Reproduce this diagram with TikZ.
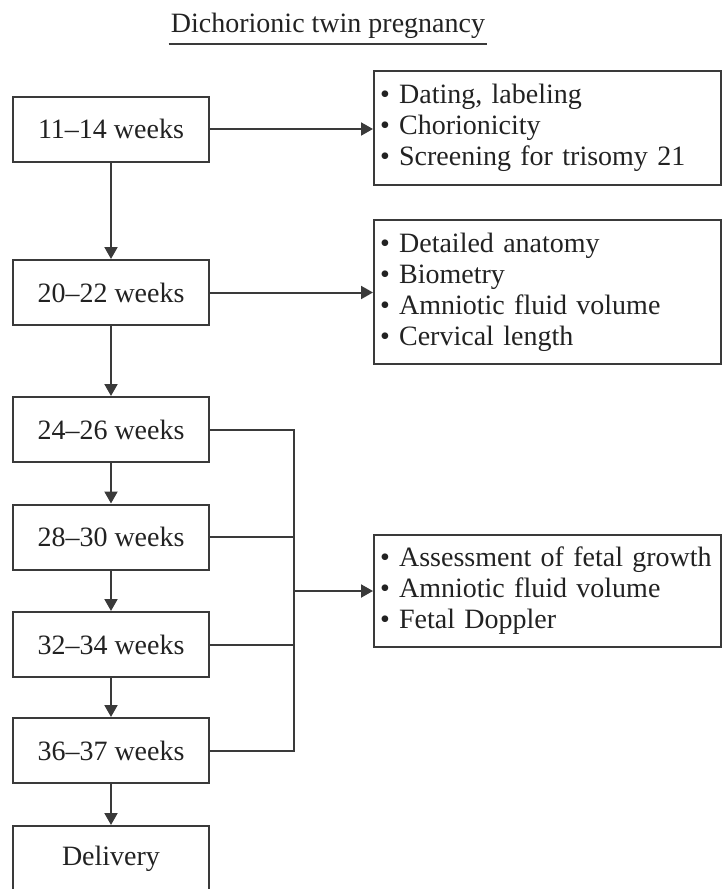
\documentclass[tikz,border=0pt]{standalone}
\usepackage{fontspec}
\setmainfont{Liberation Serif}
\usetikzlibrary{arrows.meta}
\definecolor{ln}{HTML}{3A3A3A}
\definecolor{tx}{HTML}{222222}
\begin{document}
\begin{tikzpicture}[x=1pt,y=-1pt,
  font=\fontsize{28}{31}\selectfont,
  every node/.style={text=tx},
  week/.style={draw=ln,line width=2pt,minimum width=196pt,minimum height=65pt,inner sep=0pt},
  info/.style={draw=ln,line width=2pt,minimum width=347pt,text width=335pt,align=left,inner xsep=6pt,inner ysep=0pt},
  conn/.style={draw=ln,line width=2pt},
  arr/.style={conn,-{Triangle[length=12pt,width=13pt]}}]
\useasboundingbox (0,0) rectangle (723,889);
\node[anchor=base,inner sep=0pt] (title) at (328,32) {Dichorionic twin pregnancy};
\draw[conn] ([yshift=-12pt,xshift=-2pt]title.base west) -- ([yshift=-12pt,xshift=2pt]title.base east);

\node[week] (b1) at (111,129) {11–14 weeks};
\node[week] (b2) at (111,292.5) {20–22 weeks};
\node[week] (b3) at (111,429.5) {24–26 weeks};
\node[week] (b4) at (111,537) {28–30 weeks};
\node[week] (b5) at (111,644.5) {32–34 weeks};
\node[week] (b6) at (111,750.5) {36–37 weeks};
\node[week] (b7) at (111,858.5) {Delivery};

\node[info,minimum height=114pt] (r1) at (547.5,128) {• Dating, labeling\\• Chorionicity\\• Screening for trisomy 21};
\node[info,minimum height=144pt] (r2) at (547.5,292) {• Detailed anatomy\\• Biometry\\• Amniotic fluid volume\\• Cervical length};
\node[info,minimum height=112pt] (r3) at (547.5,591) {• Assessment of fetal growth\\• Amniotic fluid volume\\• Fetal Doppler};

\draw[arr] (b1) -- (b2);
\draw[arr] (b2) -- (b3);
\draw[arr] (b3) -- (b4);
\draw[arr] (b4) -- (b5);
\draw[arr] (b5) -- (b6);
\draw[arr] (b6) -- (b7);

\draw[arr] (b1.east) -- (b1.east -| r1.west);
\draw[arr] (b2.east) -- (b2.east -| r2.west);

\coordinate (j) at (294,591);
\draw[conn] (b3.east) -- (b3.east -| j) -- (b6.east -| j) -- (b6.east);
\draw[conn] (b4.east) -- (b4.east -| j);
\draw[conn] (b5.east) -- (b5.east -| j);
\draw[arr] (j) -- (r3.west);
\end{tikzpicture}
\end{document}
